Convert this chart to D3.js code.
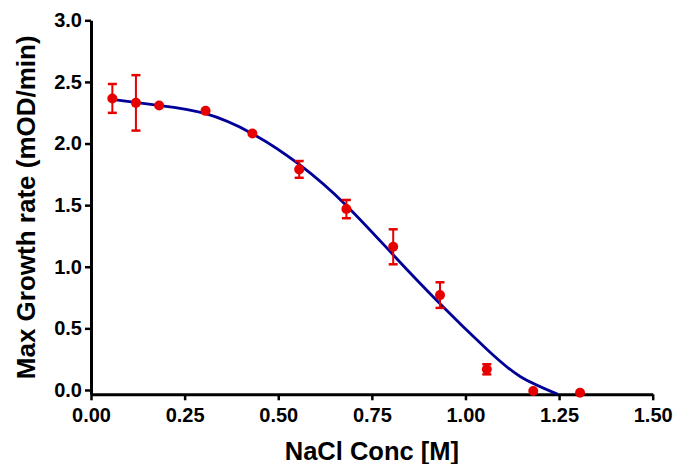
<!DOCTYPE html>
<html>
<head>
<meta charset="utf-8">
<script src="https://cdn.jsdelivr.net/npm/d3@7"></script>
<style>
  body { margin: 0; background: #fff; }
  svg text { font-family: "Liberation Sans", Arial, sans-serif; font-weight: bold; fill: #000; }
</style>
</head>
<body>
<div id="chart"></div>
<script>
// measured points (NaCl conc in M, max growth rate in mOD/min, error)
var conc = [0.057, 0.120, 0.182, 0.306, 0.431, 0.556, 0.682, 0.807, 0.932, 1.057, 1.181, 1.306];
var rate = [2.366, 2.330, 2.309, 2.265, 2.082, 1.790, 1.468, 1.162, 0.770, 0.168, -0.008, -0.022];
var err  = [0.117, 0.225, 0, 0, 0, 0.068, 0.074, 0.142, 0.104, 0.041, 0, 0];

// fitted curve
var fitX = [0.056, 0.180, 0.304, 0.431, 0.556, 0.681, 0.806, 0.932, 1.057, 1.146, 1.247];
var fitY = [2.358, 2.310, 2.244, 2.080, 1.830, 1.500, 1.100, 0.700, 0.330, 0.110, -0.035];

var xTicks = [0, 0.25, 0.5, 0.75, 1.0, 1.25, 1.5];
var yTicks = [0, 0.5, 1.0, 1.5, 2.0, 2.5, 3.0];

var width = 676, height = 464;

var svg = d3.select("#chart").append("svg")
  .attr("width", width).attr("height", height);

var x = d3.scaleLinear().domain([0, 1.5]).range([91, 652.7]);
var y = d3.scaleLinear().domain([-0.035, 3]).range([394.3, 20.3]);

// axes
var xAxis = svg.append("g")
  .attr("transform", "translate(0," + y(-0.035) + ")")
  .call(d3.axisBottom(x).tickValues(xTicks).tickFormat(d3.format(".2f"))
    .tickSize(6).tickSizeOuter(0).tickPadding(8));

var yAxis = svg.append("g")
  .attr("transform", "translate(" + x(0) + ",0)")
  .call(d3.axisLeft(y).tickValues(yTicks).tickFormat(d3.format(".1f"))
    .tickSize(6).tickSizeOuter(0).tickPadding(3));

[xAxis, yAxis].forEach(function (g) {
  g.select(".domain").attr("stroke", "#000").attr("stroke-width", 3);
  g.selectAll(".tick line").attr("stroke", "#000").attr("stroke-width", 2.5);
  g.selectAll(".tick text").attr("font-size", 20).attr("fill", "#000")
    .style("font-family", "'Liberation Sans', Arial, sans-serif").style("font-weight", "bold");
});

// axis titles
svg.append("text")
  .attr("x", (x(0) + x(1.5)) / 2)
  .attr("y", 460)
  .attr("text-anchor", "middle")
  .attr("font-size", 25.5)
  .text("NaCl Conc [M]");

svg.append("text")
  .attr("transform", "translate(35," + (y(-0.035) + y(3)) / 2 + ") rotate(-90)")
  .attr("text-anchor", "middle")
  .attr("font-size", 26)
  .text("Max Growth rate (mOD/min)");

// fit line
var line = d3.line()
  .x(function (d) { return x(d[0]); })
  .y(function (d) { return y(d[1]); })
  .curve(d3.curveNatural);

svg.append("path")
  .datum(d3.zip(fitX, fitY))
  .attr("d", line)
  .attr("fill", "none")
  .attr("stroke", "#000099")
  .attr("stroke-width", 2.8);

// error bars + points
var pts = conc.map(function (c, i) { return {x: c, y: rate[i], e: err[i]}; });
var red = "#e60000";

var bars = svg.append("g").selectAll("g")
  .data(pts.filter(function (d) { return d.e > 0; }))
  .enter().append("g");

bars.append("line")
  .attr("x1", function (d) { return x(d.x); })
  .attr("x2", function (d) { return x(d.x); })
  .attr("y1", function (d) { return y(d.y - d.e); })
  .attr("y2", function (d) { return y(d.y + d.e); })
  .attr("stroke", red).attr("stroke-width", 2);

[-1, 1].forEach(function (s) {
  bars.append("line")
    .attr("x1", function (d) { return x(d.x) - 4.5; })
    .attr("x2", function (d) { return x(d.x) + 4.5; })
    .attr("y1", function (d) { return y(d.y + s * d.e); })
    .attr("y2", function (d) { return y(d.y + s * d.e); })
    .attr("stroke", red).attr("stroke-width", 2.5);
});

svg.append("g").selectAll("circle")
  .data(pts)
  .enter().append("circle")
  .attr("cx", function (d) { return x(d.x); })
  .attr("cy", function (d) { return y(d.y); })
  .attr("r", 5)
  .attr("fill", red);
</script>
</body>
</html>
